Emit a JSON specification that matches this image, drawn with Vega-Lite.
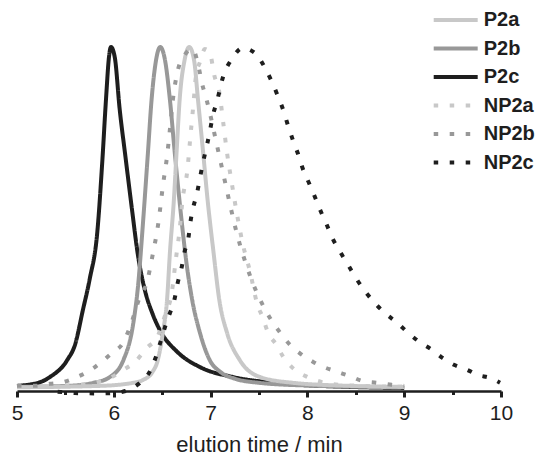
{
  "$schema": "https://vega.github.io/schema/vega-lite/v6.json",
  "autosize": "none",
  "padding": {"left": 17, "top": 47, "right": 39, "bottom": 66},
  "width": 484,
  "height": 344,
  "background": "white",
  "config": {
    "view": {"stroke": null},
    "font": "Liberation Sans",
    "legend": {
      "orient": "none",
      "legendX": 428.7,
      "legendY": -37,
      "symbolType": "M-3,0H3",
      "symbolSize": 215,
      "symbolStrokeWidth": 4,
      "labelFontSize": 20,
      "labelFontWeight": "bold",
      "labelFont": "Liberation Sans",
      "labelColor": "#1e1e1e",
      "labelOffset": 18,
      "rowPadding": 8.5,
      "padding": 0
    }
  },
  "data": {
    "values": [
      {"t": 5.0, "s": "P2c", "v": 0.009}, {"t": 5.24, "s": "P2c", "v": 0.02}, {"t": 5.34, "s": "P2c", "v": 0.035}, {"t": 5.52, "s": "P2c", "v": 0.085}, {"t": 5.6, "s": "P2c", "v": 0.13}, {"t": 5.68, "s": "P2c", "v": 0.23}, {"t": 5.75, "s": "P2c", "v": 0.32}, {"t": 5.83, "s": "P2c", "v": 0.46}, {"t": 5.88, "s": "P2c", "v": 0.66}, {"t": 5.92, "s": "P2c", "v": 0.85}, {"t": 5.95, "s": "P2c", "v": 0.97}, {"t": 5.97, "s": "P2c", "v": 1.0}, {"t": 6.01, "s": "P2c", "v": 0.97}, {"t": 6.06, "s": "P2c", "v": 0.82}, {"t": 6.12, "s": "P2c", "v": 0.68}, {"t": 6.19, "s": "P2c", "v": 0.52}, {"t": 6.25, "s": "P2c", "v": 0.39}, {"t": 6.32, "s": "P2c", "v": 0.29}, {"t": 6.4, "s": "P2c", "v": 0.22}, {"t": 6.48, "s": "P2c", "v": 0.17}, {"t": 6.65, "s": "P2c", "v": 0.11}, {"t": 6.89, "s": "P2c", "v": 0.064}, {"t": 7.23, "s": "P2c", "v": 0.035}, {"t": 7.58, "s": "P2c", "v": 0.02}, {"t": 7.92, "s": "P2c", "v": 0.012}, {"t": 8.44, "s": "P2c", "v": 0.006}, {"t": 9.0, "s": "P2c", "v": 0.003},

      {"t": 5.0, "s": "P2b", "v": 0.006}, {"t": 5.52, "s": "P2b", "v": 0.009}, {"t": 5.79, "s": "P2b", "v": 0.018}, {"t": 5.96, "s": "P2b", "v": 0.035}, {"t": 6.1, "s": "P2b", "v": 0.085}, {"t": 6.2, "s": "P2b", "v": 0.19}, {"t": 6.25, "s": "P2b", "v": 0.3}, {"t": 6.3, "s": "P2b", "v": 0.48}, {"t": 6.35, "s": "P2b", "v": 0.68}, {"t": 6.39, "s": "P2b", "v": 0.845}, {"t": 6.43, "s": "P2b", "v": 0.95}, {"t": 6.48, "s": "P2b", "v": 1.0}, {"t": 6.53, "s": "P2b", "v": 0.96}, {"t": 6.58, "s": "P2b", "v": 0.845}, {"t": 6.63, "s": "P2b", "v": 0.69}, {"t": 6.69, "s": "P2b", "v": 0.52}, {"t": 6.75, "s": "P2b", "v": 0.37}, {"t": 6.81, "s": "P2b", "v": 0.26}, {"t": 6.89, "s": "P2b", "v": 0.164}, {"t": 6.99, "s": "P2b", "v": 0.085}, {"t": 7.1, "s": "P2b", "v": 0.05}, {"t": 7.25, "s": "P2b", "v": 0.03}, {"t": 7.5, "s": "P2b", "v": 0.018}, {"t": 8.0, "s": "P2b", "v": 0.01}, {"t": 9.0, "s": "P2b", "v": 0.005},

      {"t": 5.0, "s": "P2a", "v": 0.005}, {"t": 5.86, "s": "P2a", "v": 0.009}, {"t": 6.2, "s": "P2a", "v": 0.018}, {"t": 6.3, "s": "P2a", "v": 0.026}, {"t": 6.4, "s": "P2a", "v": 0.05}, {"t": 6.45, "s": "P2a", "v": 0.08}, {"t": 6.51, "s": "P2a", "v": 0.17}, {"t": 6.55, "s": "P2a", "v": 0.26}, {"t": 6.58, "s": "P2a", "v": 0.4}, {"t": 6.62, "s": "P2a", "v": 0.55}, {"t": 6.65, "s": "P2a", "v": 0.7}, {"t": 6.68, "s": "P2a", "v": 0.845}, {"t": 6.73, "s": "P2a", "v": 0.96}, {"t": 6.78, "s": "P2a", "v": 1.0}, {"t": 6.83, "s": "P2a", "v": 0.96}, {"t": 6.87, "s": "P2a", "v": 0.845}, {"t": 6.92, "s": "P2a", "v": 0.7}, {"t": 6.97, "s": "P2a", "v": 0.55}, {"t": 7.03, "s": "P2a", "v": 0.4}, {"t": 7.09, "s": "P2a", "v": 0.26}, {"t": 7.17, "s": "P2a", "v": 0.164}, {"t": 7.3, "s": "P2a", "v": 0.085}, {"t": 7.51, "s": "P2a", "v": 0.035}, {"t": 7.85, "s": "P2a", "v": 0.018}, {"t": 8.44, "s": "P2a", "v": 0.009}, {"t": 9.0, "s": "P2a", "v": 0.006},

      {"t": 5.0, "s": "NP2a", "v": 0.006}, {"t": 5.48, "s": "NP2a", "v": 0.009}, {"t": 5.65, "s": "NP2a", "v": 0.012}, {"t": 5.83, "s": "NP2a", "v": 0.02}, {"t": 5.96, "s": "NP2a", "v": 0.032}, {"t": 6.1, "s": "NP2a", "v": 0.056}, {"t": 6.22, "s": "NP2a", "v": 0.079}, {"t": 6.34, "s": "NP2a", "v": 0.12}, {"t": 6.45, "s": "NP2a", "v": 0.152}, {"t": 6.53, "s": "NP2a", "v": 0.216}, {"t": 6.6, "s": "NP2a", "v": 0.284}, {"t": 6.64, "s": "NP2a", "v": 0.377}, {"t": 6.68, "s": "NP2a", "v": 0.465}, {"t": 6.71, "s": "NP2a", "v": 0.553}, {"t": 6.76, "s": "NP2a", "v": 0.64}, {"t": 6.79, "s": "NP2a", "v": 0.734}, {"t": 6.82, "s": "NP2a", "v": 0.825}, {"t": 6.85, "s": "NP2a", "v": 0.918}, {"t": 6.89, "s": "NP2a", "v": 0.956}, {"t": 6.94, "s": "NP2a", "v": 0.994}, {"t": 6.99, "s": "NP2a", "v": 0.985}, {"t": 7.04, "s": "NP2a", "v": 0.915}, {"t": 7.09, "s": "NP2a", "v": 0.868}, {"t": 7.13, "s": "NP2a", "v": 0.78}, {"t": 7.17, "s": "NP2a", "v": 0.69}, {"t": 7.22, "s": "NP2a", "v": 0.6}, {"t": 7.27, "s": "NP2a", "v": 0.515}, {"t": 7.33, "s": "NP2a", "v": 0.427}, {"t": 7.41, "s": "NP2a", "v": 0.34}, {"t": 7.48, "s": "NP2a", "v": 0.25}, {"t": 7.54, "s": "NP2a", "v": 0.208}, {"t": 7.59, "s": "NP2a", "v": 0.167}, {"t": 7.68, "s": "NP2a", "v": 0.129}, {"t": 7.75, "s": "NP2a", "v": 0.094}, {"t": 7.85, "s": "NP2a", "v": 0.061}, {"t": 8.0, "s": "NP2a", "v": 0.035}, {"t": 8.15, "s": "NP2a", "v": 0.02}, {"t": 8.34, "s": "NP2a", "v": 0.012}, {"t": 9.0, "s": "NP2a", "v": 0.006},

      {"t": 5.0, "s": "NP2b", "v": 0.009}, {"t": 5.17, "s": "NP2b", "v": 0.009}, {"t": 5.34, "s": "NP2b", "v": 0.015}, {"t": 5.48, "s": "NP2b", "v": 0.02}, {"t": 5.62, "s": "NP2b", "v": 0.035}, {"t": 5.73, "s": "NP2b", "v": 0.05}, {"t": 5.86, "s": "NP2b", "v": 0.076}, {"t": 5.98, "s": "NP2b", "v": 0.105}, {"t": 6.1, "s": "NP2b", "v": 0.137}, {"t": 6.19, "s": "NP2b", "v": 0.2}, {"t": 6.27, "s": "NP2b", "v": 0.27}, {"t": 6.34, "s": "NP2b", "v": 0.31}, {"t": 6.4, "s": "NP2b", "v": 0.39}, {"t": 6.46, "s": "NP2b", "v": 0.485}, {"t": 6.51, "s": "NP2b", "v": 0.6}, {"t": 6.55, "s": "NP2b", "v": 0.68}, {"t": 6.58, "s": "NP2b", "v": 0.76}, {"t": 6.61, "s": "NP2b", "v": 0.845}, {"t": 6.66, "s": "NP2b", "v": 0.93}, {"t": 6.74, "s": "NP2b", "v": 0.98}, {"t": 6.81, "s": "NP2b", "v": 0.995}, {"t": 6.87, "s": "NP2b", "v": 0.95}, {"t": 6.91, "s": "NP2b", "v": 0.895}, {"t": 6.95, "s": "NP2b", "v": 0.855}, {"t": 6.99, "s": "NP2b", "v": 0.81}, {"t": 7.06, "s": "NP2b", "v": 0.72}, {"t": 7.13, "s": "NP2b", "v": 0.63}, {"t": 7.2, "s": "NP2b", "v": 0.54}, {"t": 7.27, "s": "NP2b", "v": 0.456}, {"t": 7.36, "s": "NP2b", "v": 0.37}, {"t": 7.48, "s": "NP2b", "v": 0.28}, {"t": 7.54, "s": "NP2b", "v": 0.245}, {"t": 7.63, "s": "NP2b", "v": 0.2}, {"t": 7.72, "s": "NP2b", "v": 0.164}, {"t": 7.82, "s": "NP2b", "v": 0.129}, {"t": 7.92, "s": "NP2b", "v": 0.105}, {"t": 8.06, "s": "NP2b", "v": 0.079}, {"t": 8.17, "s": "NP2b", "v": 0.064}, {"t": 8.31, "s": "NP2b", "v": 0.05}, {"t": 8.46, "s": "NP2b", "v": 0.035}, {"t": 8.57, "s": "NP2b", "v": 0.023}, {"t": 8.72, "s": "NP2b", "v": 0.018}, {"t": 8.87, "s": "NP2b", "v": 0.012}, {"t": 9.0, "s": "NP2b", "v": 0.009},

      {"t": 5.42, "s": "NP2c", "v": -0.008}, {"t": 5.6, "s": "NP2c", "v": -0.012}, {"t": 5.8, "s": "NP2c", "v": -0.013}, {"t": 6.0, "s": "NP2c", "v": -0.012}, {"t": 6.12, "s": "NP2c", "v": -0.006}, {"t": 6.2, "s": "NP2c", "v": 0.004}, {"t": 6.27, "s": "NP2c", "v": 0.018}, {"t": 6.37, "s": "NP2c", "v": 0.05}, {"t": 6.43, "s": "NP2c", "v": 0.09}, {"t": 6.48, "s": "NP2c", "v": 0.135}, {"t": 6.55, "s": "NP2c", "v": 0.2}, {"t": 6.63, "s": "NP2c", "v": 0.266}, {"t": 6.66, "s": "NP2c", "v": 0.31}, {"t": 6.7, "s": "NP2c", "v": 0.354}, {"t": 6.73, "s": "NP2c", "v": 0.4}, {"t": 6.77, "s": "NP2c", "v": 0.44}, {"t": 6.79, "s": "NP2c", "v": 0.485}, {"t": 6.82, "s": "NP2c", "v": 0.53}, {"t": 6.86, "s": "NP2c", "v": 0.573}, {"t": 6.89, "s": "NP2c", "v": 0.617}, {"t": 6.92, "s": "NP2c", "v": 0.66}, {"t": 6.96, "s": "NP2c", "v": 0.71}, {"t": 6.99, "s": "NP2c", "v": 0.75}, {"t": 7.02, "s": "NP2c", "v": 0.795}, {"t": 7.07, "s": "NP2c", "v": 0.846}, {"t": 7.13, "s": "NP2c", "v": 0.914}, {"t": 7.22, "s": "NP2c", "v": 0.965}, {"t": 7.33, "s": "NP2c", "v": 0.997}, {"t": 7.46, "s": "NP2c", "v": 0.982}, {"t": 7.56, "s": "NP2c", "v": 0.94}, {"t": 7.63, "s": "NP2c", "v": 0.9}, {"t": 7.69, "s": "NP2c", "v": 0.86}, {"t": 7.75, "s": "NP2c", "v": 0.816}, {"t": 7.8, "s": "NP2c", "v": 0.77}, {"t": 7.85, "s": "NP2c", "v": 0.728}, {"t": 7.9, "s": "NP2c", "v": 0.69}, {"t": 7.95, "s": "NP2c", "v": 0.646}, {"t": 8.02, "s": "NP2c", "v": 0.6}, {"t": 8.08, "s": "NP2c", "v": 0.56}, {"t": 8.14, "s": "NP2c", "v": 0.518}, {"t": 8.2, "s": "NP2c", "v": 0.48}, {"t": 8.26, "s": "NP2c", "v": 0.44}, {"t": 8.34, "s": "NP2c", "v": 0.4}, {"t": 8.42, "s": "NP2c", "v": 0.363}, {"t": 8.5, "s": "NP2c", "v": 0.325}, {"t": 8.6, "s": "NP2c", "v": 0.284}, {"t": 8.7, "s": "NP2c", "v": 0.25}, {"t": 8.8, "s": "NP2c", "v": 0.222}, {"t": 8.93, "s": "NP2c", "v": 0.193}, {"t": 9.04, "s": "NP2c", "v": 0.164}, {"t": 9.16, "s": "NP2c", "v": 0.137}, {"t": 9.29, "s": "NP2c", "v": 0.114}, {"t": 9.4, "s": "NP2c", "v": 0.09}, {"t": 9.52, "s": "NP2c", "v": 0.07}, {"t": 9.65, "s": "NP2c", "v": 0.056}, {"t": 9.76, "s": "NP2c", "v": 0.041}, {"t": 9.89, "s": "NP2c", "v": 0.032}, {"t": 9.99, "s": "NP2c", "v": 0.018}
    ]
  },
  "mark": {"type": "line", "strokeWidth": 4, "strokeCap": "butt", "strokeJoin": "round", "interpolate": "monotone"},
  "encoding": {
    "x": {
      "field": "t",
      "type": "quantitative",
      "scale": {"domain": [5, 10], "nice": false, "zero": false},
      "axis": {
        "title": "elution time / min",
        "values": [5, 5.5, 6, 6.5, 7, 7.5, 8, 8.5, 9, 9.5, 10],
        "labelExpr": "datum.value % 1 === 0 ? format(datum.value, 'd') : ''",
        "labelOverlap": false,
        "labelFlush": false,
        "grid": false,
        "domainColor": "#1e1e1e",
        "domainWidth": 2.5,
        "tickColor": "#1e1e1e",
        "tickWidth": 3,
        "tickSize": {"condition": {"test": "datum.value % 1 === 0", "value": 6}, "value": 3.5},
        "labelFontSize": 21,
        "labelFont": "Liberation Sans",
        "labelColor": "#1e1e1e",
        "labelPadding": 5,
        "titleFontSize": 22,
        "titleFont": "Liberation Sans",
        "titleFontWeight": "normal",
        "titleColor": "#1e1e1e",
        "titlePadding": 11
      }
    },
    "y": {
      "field": "v",
      "type": "quantitative",
      "scale": {"domain": [-0.006, 1], "nice": false, "zero": false},
      "axis": null
    },
    "color": {
      "field": "s",
      "type": "nominal",
      "title": null,
      "scale": {
        "domain": ["P2a", "P2b", "P2c", "NP2a", "NP2b", "NP2c"],
        "range": ["#c8c8c8", "#989898", "#1e1e1e", "#c8c8c8", "#989898", "#1e1e1e"]
      }
    },
    "strokeDash": {
      "field": "s",
      "type": "nominal",
      "title": null,
      "scale": {
        "domain": ["P2a", "P2b", "P2c", "NP2a", "NP2b", "NP2c"],
        "range": [[1, 0], [1, 0], [1, 0], [4.5, 11.5], [4.5, 11.5], [4.5, 11.5]]
      }
    }
  }
}
